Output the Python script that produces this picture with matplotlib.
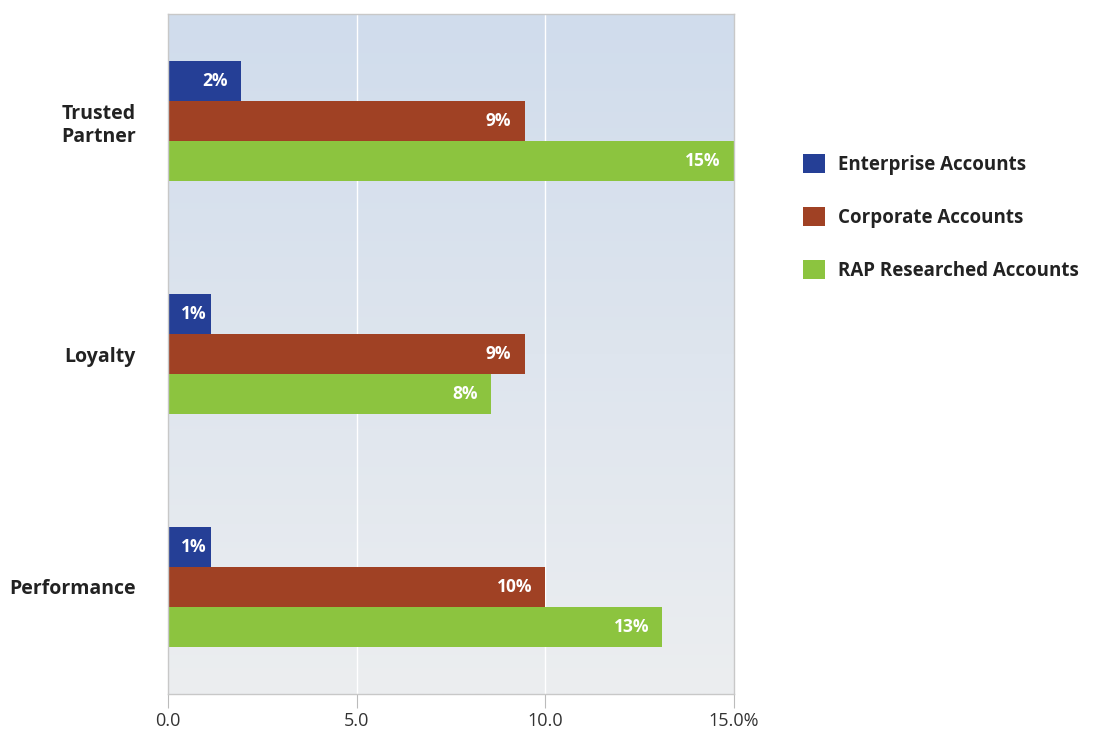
import numpy as np
import matplotlib.pyplot as plt
from matplotlib.colors import LinearSegmentedColormap
from matplotlib.patches import Patch

plt.rcParams['font.family'] = ['Open Sans', 'DejaVu Sans']

categories = ["Trusted\nPartner", "Loyalty", "Performance"]
series_names = ["Enterprise Accounts", "Corporate Accounts", "RAP Researched Accounts"]
enterprise = [1.93, 1.15, 1.15]
corporate = [9.45, 9.45, 10.0]
rap = [15.0, 8.55, 13.1]
labels_ent = ["2%", "1%", "1%"]
labels_corp = ["9%", "9%", "10%"]
labels_rap = ["15%", "8%", "13%"]
colors = ["#253f96", "#a04124", "#8cc43f"]
xticks = [0, 5, 10, 15]
xtick_labels = ["0.0", "5.0", "10.0", "15.0%"]

fig = plt.figure(figsize=(10.95, 7.31), dpi=100)
ax = fig.add_axes([0.1534, 0.0506, 0.5169, 0.9302])

# gradient background
cmap = LinearSegmentedColormap.from_list("bg", ["#d0dcec", "#eceef0"])
grad = np.linspace(0, 1, 256).reshape(-1, 1)
ax.imshow(grad, cmap=cmap, aspect="auto", extent=[0, 15, 2.46, -0.46], zorder=0)

ypos = np.arange(len(categories))
h = 0.172
series = [enterprise, corporate, rap]
labels = [labels_ent, labels_corp, labels_rap]
for i, (vals, labs) in enumerate(zip(series, labels)):
    y = ypos + (i - 1) * h
    ax.barh(y, vals, height=h, color=colors[i], zorder=2)
    for yy, v, t in zip(y, vals, labs):
        off = 0.35 if v > 1.5 else 0.13
        ax.text(v - off, yy, t, ha="right", va="center", color="white",
                fontsize=12.5, fontweight="bold", zorder=3)

ax.set_xlim(0, 15)
ax.set_ylim(2.46, -0.46)
for gx in [5, 10]:
    ax.axvline(gx, color="white", lw=1, zorder=1)

ax.set_xticks(xticks)
ax.set_xticklabels(xtick_labels, fontsize=13, color="#333333")
ax.tick_params(axis="x", length=10, color="#bbbbbb", pad=3)
ax.set_yticks(ypos)
ax.set_yticklabels(categories, fontsize=14, fontweight="bold", color="#222222",
                   ha="right", linespacing=1.2)
ax.tick_params(axis="y", length=0, pad=23)
for sp in ax.spines.values():
    sp.set_color("#c8c8c8")
    sp.set_linewidth(1)

handles = [Patch(facecolor=c) for c in colors]
leg = fig.legend(handles, series_names, loc="upper left", bbox_to_anchor=(0.718, 0.812),
                 frameon=False, handlelength=1.15, handleheight=1.15, handletextpad=0.7,
                 labelspacing=1.72, prop={"size": 13.5, "weight": "bold"})
for t in leg.get_texts():
    t.set_color("#222222")

fig.savefig("out.png", dpi=100)
